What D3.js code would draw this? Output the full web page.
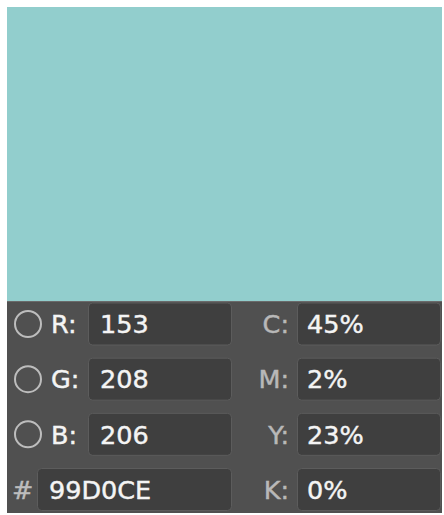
<!DOCTYPE html>
<html><head><meta charset="utf-8">
<script src="https://cdn.jsdelivr.net/npm/d3@7"></script>
<style>
html,body{margin:0;padding:0;background:#fff;}
svg{display:block;}
</style></head>
<body>
<script>
const swatchHex = "#92CECD";
const rgbLabels = ["R", "G", "B"];
const rgbValues = [153, 208, 206];
const cmykLabels = ["C", "M", "Y", "K"];
const cmykValues = ["45%", "2%", "23%", "0%"];
const hexLabel = "#";
const hexValue = "99D0CE";
const rowKeys = ["r0", "r1", "r2", "r3"];

const W = 444, H = 515;
const svg = d3.select("body").append("svg").attr("width", W).attr("height", H);

const x0 = 7, x1 = 442, swTop = 7, panelTop = 301, panelBottom = 513;

svg.append("rect").attr("x", x0).attr("y", swTop).attr("width", x1 - x0).attr("height", panelTop - swTop)
  .attr("fill", swatchHex);

svg.append("rect").attr("x", x0).attr("y", panelTop).attr("width", x1 - x0).attr("height", panelBottom - panelTop)
  .attr("fill", "#505050");
svg.append("line").attr("x1", x0).attr("x2", x1).attr("y1", panelTop + 0.5).attr("y2", panelTop + 0.5)
  .attr("stroke", "#6a6a6a").attr("stroke-width", 1);

const yRow = d3.scalePoint().domain(rowKeys).range([324, 489.5]);
const fieldH = 43;
const font = "'DejaVu Sans', Verdana, sans-serif";
const fs = 25.5;

function field(x, w, cy) {
  svg.append("rect").attr("x", x + 0.5).attr("y", cy - fieldH / 2 + 0.5).attr("width", w - 1).attr("height", fieldH - 1)
    .attr("rx", 4).attr("fill", "#3f3f3f").attr("stroke", "#5c5c5c").attr("stroke-width", 1);
}
function text(x, cy, t, color, anchor) {
  svg.append("text").attr("x", x).attr("y", cy).attr("dy", "0.36em")
    .attr("text-anchor", anchor || "start")
    .attr("font-family", font).attr("font-size", fs).attr("fill", color)
    .attr("stroke", color).attr("stroke-width", 0.45).text(t);
}

rgbLabels.forEach((lab, i) => {
  const cy = yRow(rowKeys[i]);
  svg.append("circle").attr("cx", 28).attr("cy", cy).attr("r", 13)
    .attr("fill", "none").attr("stroke", "#bdbdbd").attr("stroke-width", 2);
  text(51, cy, lab + ":", "#f4f4f4");
  field(88, 144, cy);
  text(100, cy, rgbValues[i], "#f4f4f4");
});

{
  const cy = yRow(rowKeys[3]);
  text(12, cy, hexLabel, "#bdbdbd");
  field(37, 195, cy);
  text(49, cy, hexValue, "#f4f4f4");
}

cmykLabels.forEach((lab, i) => {
  const cy = yRow(rowKeys[i]);
  text(289, cy, lab + ":", "#b8b8b8", "end");
  field(297, 144, cy);
  text(307, cy, cmykValues[i], "#f4f4f4");
});
</script>
</body></html>
